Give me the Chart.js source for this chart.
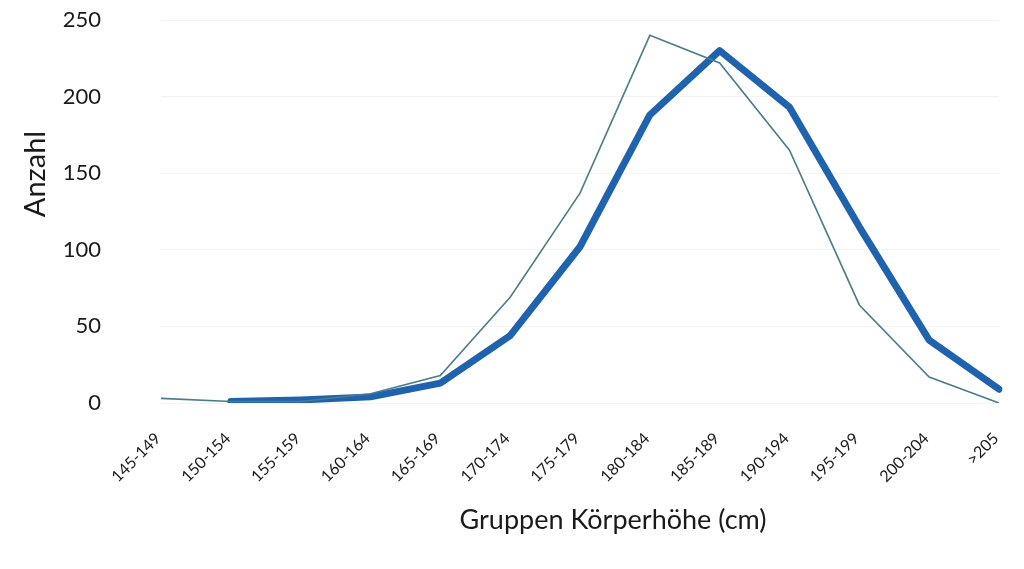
<!DOCTYPE html>
<html>
<head>
<meta charset="utf-8">
<script src="https://cdn.jsdelivr.net/npm/chart.js@4"></script>
<style>
html,body{margin:0;padding:0;background:#fff;}
#wrap{width:1024px;height:569px;position:relative;}
</style>
</head>
<body>
<div id="wrap"><canvas id="c" width="1024" height="569"></canvas></div>
<script>
const categories = ["145-149","150-154","155-159","160-164","165-169","170-174","175-179","180-184","185-189","190-194","195-199","200-204",">205"];
const thinSeries = [3, 1, 1, 6, 18, 69, 137, 240, 222, 165, 64, 17, 0];
const thickSeries = [null, 1, 2, 4, 13, 44, 102, 188, 230, 193, 115, 41, 9];
const yTicks = [0, 50, 100, 150, 200, 250];
const yTitle = "Anzahl";
const xTitle = "Gruppen Körperhöhe (cm)";

const FONT = "Lato, 'Open Sans', sans-serif";

// Draws the axis titles at the positions used in the original (offset from axis centres)
const axisTitles = {
  id: 'axisTitles',
  afterDraw(chart) {
    const ctx = chart.ctx;
    ctx.save();
    ctx.fillStyle = '#1a1a1a';
    ctx.textAlign = 'center';
    ctx.textBaseline = 'middle';
    ctx.font = "29px " + FONT;
    ctx.translate(36, 174);
    ctx.rotate(-Math.PI / 2);
    ctx.fillText(yTitle, 0, 0);
    ctx.restore();
    ctx.save();
    ctx.fillStyle = '#1a1a1a';
    ctx.textAlign = 'center';
    ctx.textBaseline = 'middle';
    ctx.font = "27px " + FONT;
    ctx.fillText(xTitle, 613, 520);
    ctx.restore();
  }
};

new Chart(document.getElementById('c'), {
  type: 'line',
  data: {
    labels: categories,
    datasets: [
      {
        label: 'thin',
        data: thinSeries,
        borderColor: '#4a7c8c',
        borderWidth: 1.6,
        pointRadius: 0,
        tension: 0,
        fill: false
      },
      {
        label: 'thick',
        data: thickSeries,
        borderColor: '#1f62ad',
        borderWidth: 7,
        borderCapStyle: 'round',
        borderJoinStyle: 'round',
        pointRadius: 0,
        tension: 0,
        fill: false
      }
    ]
  },
  plugins: [axisTitles],
  options: {
    responsive: false,
    animation: false,
    devicePixelRatio: 1,
    layout: { padding: { left: 19, right: 25, top: 20, bottom: 0 } },
    plugins: { legend: { display: false }, tooltip: { enabled: false } },
    scales: {
      x: {
        offset: false,
        grid: { display: false, drawTicks: false },
        border: { display: false },
        ticks: {
          autoSkip: false,
          minRotation: 45,
          maxRotation: 45,
          padding: 26,
          labelOffset: -3,
          color: '#1a1a1a',
          font: { family: FONT, size: 16 }
        },
        title: { display: false },
        afterFit: (s) => { s.height = 569 - 403; s.paddingLeft = 0; s.paddingRight = 0; }
      },
      y: {
        min: 0,
        max: 250,
        afterBuildTicks: (s) => { s.ticks = yTicks.map(v => ({ value: v })); },
        grid: { color: '#f3f3f3', lineWidth: 1, drawTicks: false },
        border: { display: false },
        ticks: {
          padding: 60,
          color: '#1a1a1a',
          font: { family: FONT, size: 22 }
        },
        title: { display: false },
        afterFit: (s) => { s.width = 161 - 19; s.paddingTop = 0; s.paddingBottom = 0; }
      }
    }
  }
});
</script>
</body>
</html>
